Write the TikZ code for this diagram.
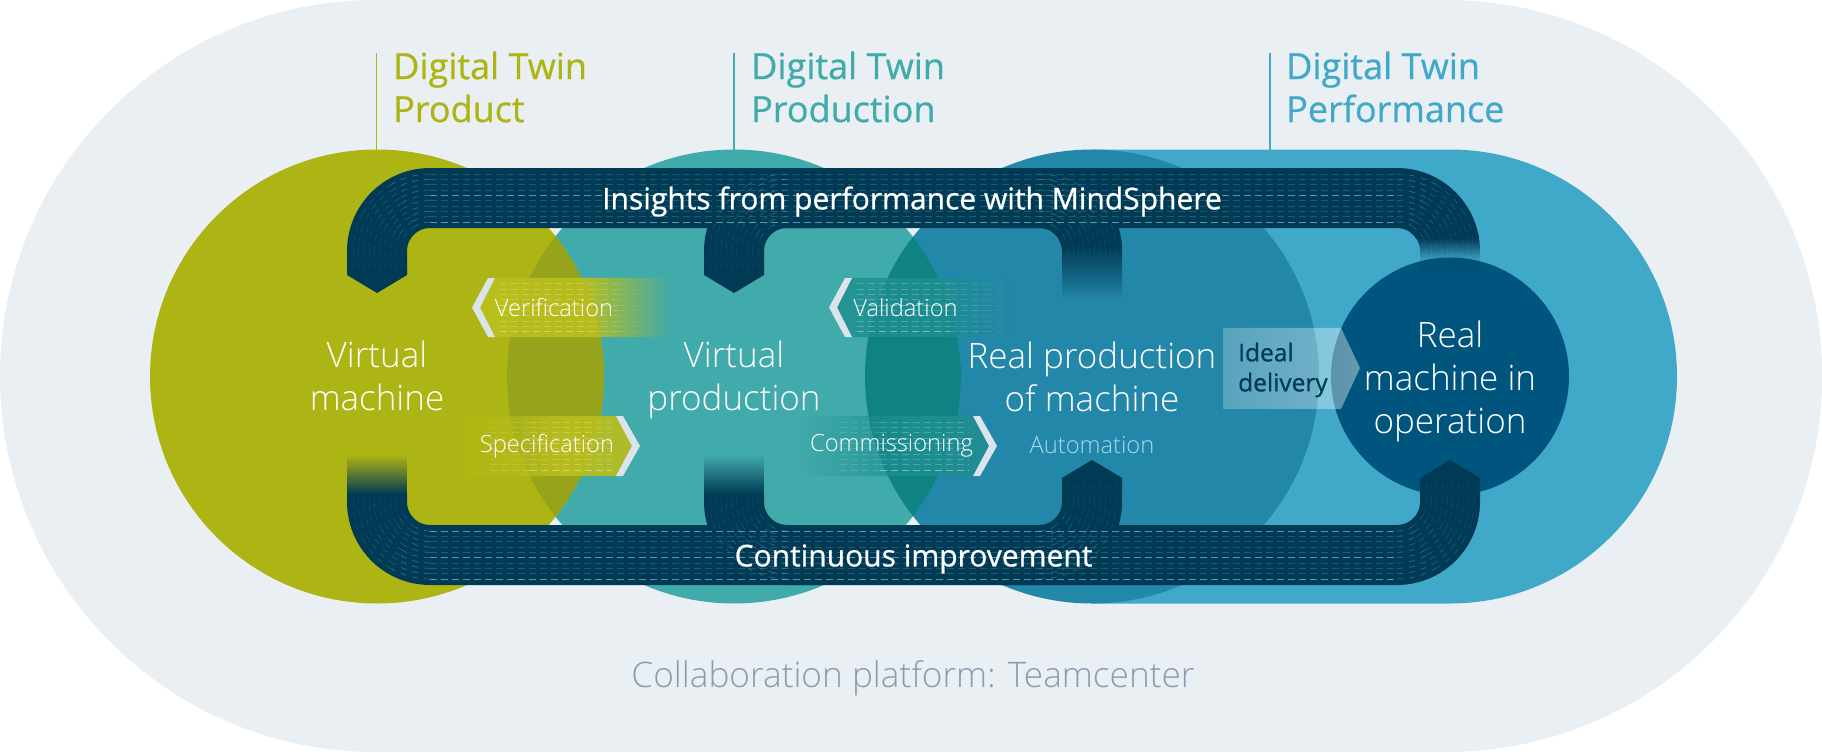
\documentclass[tikz,border=0pt]{standalone}
\usepackage{fontspec}
\setmainfont{Open Sans}
\newfontfamily\lightf{Open Sans Light}
\newfontfamily\semif{Open Sans}[FakeBold=0.7]
\newfontfamily\headf{Open Sans}[FakeBold=0.6]
\usetikzlibrary{fadings}
\definecolor{bgc}{HTML}{EAEFF3}
\definecolor{greenc}{HTML}{ACB513}
\definecolor{tealc}{HTML}{41AAAA}
\definecolor{skyc}{HTML}{40A9C9}
\definecolor{bluec}{HTML}{2387AA}
\definecolor{deepc}{HTML}{00557F}
\definecolor{bandc}{HTML}{003A55}
\definecolor{lensa}{HTML}{97A41B}
\definecolor{lensb}{HTML}{0F8284}
\definecolor{chevc}{HTML}{DDE3EA}
\definecolor{dashc}{HTML}{78C4D2}
\definecolor{collc}{HTML}{8A9DB0}
\definecolor{autoc}{HTML}{A0DCF0}
\definecolor{vfill}{HTML}{BABF1C}
\definecolor{cfill}{HTML}{1F8F90}
% fadings: white = opaque, black = clear; a path's box spans 25bp..75bp
\pgfdeclarehorizontalshading{shOut}{100bp}{rgb(0bp)=(1,1,1); rgb(54bp)=(1,1,1); rgb(75bp)=(0,0,0); rgb(100bp)=(0,0,0)}
\pgfdeclarehorizontalshading{shIn}{100bp}{rgb(0bp)=(0,0,0); rgb(25bp)=(0,0,0); rgb(55bp)=(1,1,1); rgb(100bp)=(1,1,1)}
\pgfdeclarehorizontalshading{shArrow}{100bp}{rgb(0bp)=(.6,.6,.6); rgb(25bp)=(.6,.6,.6); rgb(75bp)=(1,1,1); rgb(100bp)=(1,1,1)}
\pgfdeclareverticalshading{shTopSolid}{100bp}{rgb(0bp)=(0,0,0); rgb(25bp)=(0,0,0); rgb(70bp)=(1,1,1); rgb(100bp)=(1,1,1)}
\pgfdeclareverticalshading{shBotSolid}{100bp}{rgb(0bp)=(1,1,1); rgb(30bp)=(1,1,1); rgb(75bp)=(0,0,0); rgb(100bp)=(0,0,0)}
\pgfdeclareverticalshading{shTwoStep}{100bp}{rgb(0bp)=(0,0,0); rgb(25bp)=(0,0,0); rgb(53.7bp)=(.15,.15,.15); rgb(70bp)=(1,1,1); rgb(100bp)=(1,1,1)}
\pgfdeclarefading{fOut}{\pgfuseshading{shOut}}
\pgfdeclarefading{fIn}{\pgfuseshading{shIn}}
\pgfdeclarefading{fArrow}{\pgfuseshading{shArrow}}
\pgfdeclarefading{fTop}{\pgfuseshading{shTopSolid}}
\pgfdeclarefading{fBot}{\pgfuseshading{shBotSolid}}
\pgfdeclarefading{fTwo}{\pgfuseshading{shTwoStep}}
\tikzset{
  bandline/.style={draw=bandc,line width=60pt,line cap=butt,line join=bevel},
  dashline/.style={draw=dashc,line width=.6pt,dash pattern=on 7pt off 4pt},
  bigtext/.style={text=white,align=center,font=\lightf\fontsize{35}{43}\selectfont,inner sep=0pt},
  midtext/.style={text=white,inner sep=0pt,font=\lightf\fontsize{23.7}{26}\selectfont},
  bandtext/.style={text=white,inner sep=0pt,font=\semif\fontsize{30}{32}\selectfont},
  headtext/.style={align=left,anchor=north west,inner sep=0pt,font=\headf\fontsize{36}{43}\selectfont},
}
% arcs of dashes: centre x, centre y, start angle, sign, tail end y
\newcommand{\dasharc}[5]{%
  \foreach \i in {0,...,9}{%
    \pgfmathsetmacro\rr{29+5.33*\i}%
    \foreach \k/\op in {0/.42,1/.28,2/.16}{%
      \pgfmathsetmacro\aa{#3+#4*30*\k}%
      \pgfmathsetmacro\bb{#3+#4*30*(\k+1)}%
      \draw[dashline,dash pattern=on 6pt off 6pt,opacity=\op]
        ({#1+\rr*cos(\aa)},{#2+\rr*sin(\aa)}) arc[start angle=\aa,end angle=\bb,radius=\rr];
    }%
    \pgfmathsetmacro\bb{#3+#4*90}%
    \draw[dashline,dash pattern=on 6pt off 6pt,opacity=.08]
      ({#1+\rr*cos(\bb)},#2) -- ({#1+\rr*cos(\bb)},#5);
  }%
}
% straight dash bundle: x0, x1, centre y, opacity bright, opacity dim, bright index
\newcommand{\dashrow}[6]{%
  \foreach \i in {0,...,9}{%
    \pgfmathsetmacro\yy{#3-24+5.33*\i}%
    \pgfmathtruncatemacro\isb{(\i==#6)||(\i==9)||(\i==0 && #6==5)?1:0}%
    \ifnum\isb=1 \def\op{#4}\else\def\op{#5}\fi
    \draw[dashline,opacity=\op] (#1,\yy) -- (#2,\yy);
  }%
}
\begin{document}
\begin{tikzpicture}[x=1pt,y=-1pt]
\useasboundingbox (0,0) rectangle (1822,752);
\fill[white] (0,0) rectangle (1822,752);
% platform
\fill[bgc] (376,0) -- (1446,0) arc[start angle=270,end angle=450,radius=376] -- (376,752) arc[start angle=90,end angle=270,radius=376] -- cycle;
\node[anchor=center,inner sep=0pt,text=collc,font=\lightf\fontsize{35.2}{40}\selectfont] (coll) at (913,678) {Collaboration platform: Teamcenter};
% headings and leaders
\coordinate (la0) at (376.5,53); \coordinate (la1) at (376.5,150);
\coordinate (lb0) at (734,53);   \coordinate (lb1) at (734,150);
\coordinate (lc0) at (1270,53);  \coordinate (lc1) at (1270,150);
\draw[greenc,line width=1.2pt] (la0) -- (la1);
\draw[tealc,line width=1.2pt] (lb0) -- (lb1);
\draw[skyc,line width=1.2pt] (lc0) -- (lc1);
\node[headtext,text=greenc] (ha) at (393,51.5) {Digital Twin\\Product};
\node[headtext,text=tealc] (hb) at (751,51.5) {Digital Twin\\Production};
\node[headtext,text=skyc] (hc) at (1286,51.5) {Digital Twin\\Performance};
% circles
\fill[skyc] (1092,149.5) -- (1450,149.5) arc[start angle=270,end angle=450,radius=227] -- (1092,603.5) -- cycle;
\fill[bluec] (1092,376.5) circle[radius=227];
\fill[tealc] (734,376.5) circle[radius=227];
\fill[greenc] (377,376.5) circle[radius=227];
\begin{scope}
  \clip (377,376.5) circle[radius=227];
  \fill[lensa] (734,376.5) circle[radius=227];
\end{scope}
\begin{scope}
  \clip (734,376.5) circle[radius=227];
  \fill[lensb] (1092,376.5) circle[radius=227];
\end{scope}
\fill[deepc] (1450,376.5) circle[radius=119];
% top band
\begin{scope}
  \clip (0,0) rectangle (1380,752) (0,0) rectangle (1822,238);
  \draw[bandline] (377,272) -- (377,251) arc[start angle=180,end angle=270,radius=53] -- (1397,198) arc[start angle=270,end angle=360,radius=53] -- (1450,252);
\end{scope}
\draw[bandline] (734,272) -- (734,251) arc[start angle=180,end angle=270,radius=53] -- (820,198);
\begin{scope}
  \clip (0,0) rectangle (1822,245);
  \draw[bandline] (1000,198) -- (1039,198) arc[start angle=270,end angle=360,radius=53] -- (1092,252);
\end{scope}
\fill[bandc] (347,270) -- (347,275) -- (377,293) -- (407,275) -- (407,270) -- cycle;
\fill[bandc] (704,270) -- (704,275) -- (734,293) -- (764,275) -- (764,270) -- cycle;
\fill[bandc,path fading=fTop] (1059.2,240) arc[start angle=331.4,end angle=360,radius=23] -- (1062,300) -- (1122,300) -- (1122,251) arc[start angle=360,end angle=352.4,radius=83] -- cycle;
\fill[bandc,path fading=fTwo] (1410,232) arc[start angle=304.4,end angle=360,radius=23] -- (1420,293) -- (1480,293) -- (1480,251) arc[start angle=360,end angle=346.8,radius=83] -- cycle;
% bottom band
\draw[bandline] (1450,481) -- (1450,502) arc[start angle=360,end angle=450,radius=53] -- (430,555) arc[start angle=90,end angle=180,radius=53] -- (377,495);
\draw[bandline] (1092,481) -- (1092,502) arc[start angle=360,end angle=450,radius=53] -- (1000,555);
\draw[bandline] (820,555) -- (787,555) arc[start angle=90,end angle=180,radius=53] -- (734,495);
\fill[bandc] (1420,483) -- (1420,478) -- (1450,460) -- (1480,478) -- (1480,483) -- cycle;
\fill[bandc] (1062,483) -- (1062,478) -- (1092,460) -- (1122,478) -- (1122,483) -- cycle;
\fill[bandc,path fading=fBot] (347,455) rectangle (407,499);
\fill[bandc,path fading=fBot] (704,455) rectangle (764,499);
% dashes in the bands
\dashrow{430}{1397}{198}{.7}{.24}{4}
\dashrow{430}{1397}{555}{.7}{.24}{5}
\dasharc{430}{251}{270}{-1}{270}
\dasharc{787}{251}{270}{-1}{270}
\dasharc{1039}{251}{270}{1}{262}
\dasharc{1397}{251}{270}{1}{258}
\dasharc{430}{502}{90}{1}{497}
\dasharc{787}{502}{90}{1}{497}
\dasharc{1039}{502}{90}{-1}{480}
\dasharc{1397}{502}{90}{-1}{480}
% chevron bands: their dashes are white
\begin{scope}
\colorlet{dashc}{white}
% verification
\fill[vfill,fill opacity=.9,path fading=fOut] (495,278) -- (480,307.5) -- (495,337) -- (670,337) -- (670,278) -- cycle;
\fill[chevc] (488,278) -- (472,307.5) -- (488,337) -- (495,337) -- (480,307.5) -- (495,278) -- cycle;
\dashrow{500}{590}{307.5}{.4}{.22}{4}
\dashrow{590}{620}{307.5}{.22}{.15}{4}
\dashrow{620}{640}{307.5}{.1}{.07}{4}
% specification
\fill[vfill,fill opacity=.9,path fading=fIn] (447,416) -- (617,416) -- (632,446) -- (617,476) -- (447,476) -- cycle;
\fill[chevc] (616,416) -- (632,446) -- (616,476) -- (623,476) -- (640,446) -- (623,416) -- cycle;
\dashrow{530}{612}{446}{.4}{.22}{4}
\dashrow{490}{530}{446}{.18}{.12}{4}
% validation
\fill[cfill,fill opacity=.85,path fading=fOut] (852,278) -- (837,307.5) -- (852,337) -- (1015,337) -- (1015,278) -- cycle;
\fill[chevc] (845,278) -- (829,307.5) -- (845,337) -- (852,337) -- (837,307.5) -- (852,278) -- cycle;
\dashrow{857}{950}{307.5}{.4}{.22}{4}
\dashrow{950}{985}{307.5}{.18}{.12}{4}
\dashrow{985}{1005}{307.5}{.09}{.06}{4}
% commissioning
\fill[cfill,fill opacity=.85,path fading=fIn] (800,416) -- (974,416) -- (989,446) -- (974,476) -- (800,476) -- cycle;
\fill[chevc] (973,416) -- (989,446) -- (973,476) -- (980,476) -- (997,446) -- (980,416) -- cycle;
\dashrow{880}{969}{446}{.4}{.22}{4}
\dashrow{840}{880}{446}{.18}{.12}{4}
\end{scope}
% ideal delivery arrow
\fill[white,fill opacity=.4,path fading=fArrow] (1223,328) -- (1341,328) -- (1360,368) -- (1341,409) -- (1223,409) -- cycle;
% texts
\node[bandtext] (ins) at (912,201.5) {Insights from performance with MindSphere};
\node[bandtext] (imp) at (913.5,559) {Continuous improvement};
\node[bigtext] (vm) at (377,376) {Virtual\\machine};
\node[bigtext] (vp) at (734,380) {Virtual\\production};
\node[bigtext] (rp) at (1092,377) {Real production\\of machine};
\node[bigtext] (rm) at (1450,381) {Real\\machine in\\operation};
\node[midtext] (ver) at (554,308) {Verification};
\node[midtext] (spe) at (547,446) {Specification};
\node[midtext] (val) at (905.5,308) {Validation};
\node[midtext] (com) at (891.5,446) {Commissioning};
\node[midtext,text=autoc] (aut) at (1092,445) {Automation};
\node[inner sep=0pt,anchor=west,align=left,text=bandc,font=\semif\fontsize{24.5}{30}\selectfont] (ide) at (1238,370) {Ideal\\delivery};
\end{tikzpicture}
\end{document}
